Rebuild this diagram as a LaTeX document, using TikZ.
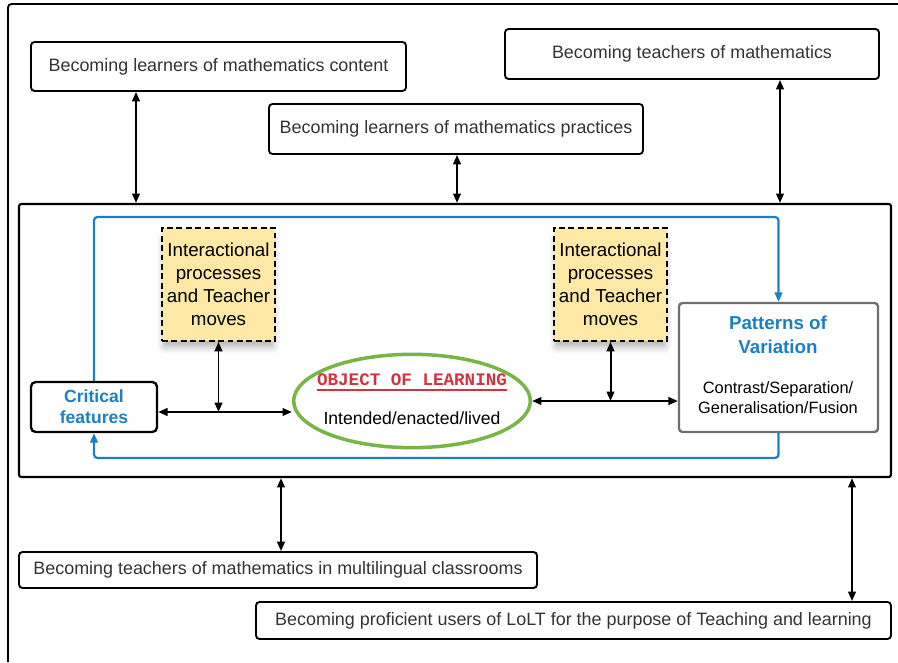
\documentclass[tikz,border=0pt]{standalone}
\usepackage{fontspec}
\setmainfont{Liberation Sans}
\newfontfamily\olfont{Liberation Mono}
\usetikzlibrary{shapes.geometric,fit,arrows.meta,shadows.blur}

\definecolor{featblue}{HTML}{1B7FC4}
\definecolor{moveyellow}{HTML}{FDE8A5}
\definecolor{olgreen}{HTML}{78B546}
\definecolor{olred}{HTML}{D1333F}
\definecolor{pvgray}{HTML}{6E6E6E}
\definecolor{txtgray}{HTML}{333333}

\begin{document}
\begin{tikzpicture}[x=0.03cm, y=-0.03cm,
    box/.style={draw, line width=1.6pt, rounded corners=3pt, inner sep=0pt},
    boxtext/.style={text=txtgray, font=\fontsize{15.3pt}{18pt}\selectfont},
    movebox/.style={draw, line width=1.5pt, dash pattern=on 5pt off 3pt,
      fill=moveyellow, inner sep=0pt,
      blur shadow={shadow xshift=0pt, shadow yshift=-7pt, shadow scale=0.95,
        shadow blur radius=7pt, shadow blur steps=12, shadow opacity=35}},
    movetext/.style={align=center, font=\fontsize{16pt}{19.6pt}\selectfont},
    dbl/.style={{Triangle[length=8pt,width=6.5pt]}-{Triangle[length=8pt,width=6.5pt]},
      line width=1.7pt},
    cycleline/.style={draw=featblue, line width=1.9pt, rounded corners=3pt,
      -{Triangle[length=8pt,width=6.5pt]}},
  ]

  \useasboundingbox (0,0) rectangle (898,662);

  % outer frame (open at the bottom and right)
  \draw[line width=1.6pt, rounded corners=3pt] (8,662) |- (898,4);

  % the three outcomes above
  \node[box, fit={(31,42) (406,91)}] (content) {};
  \node[boxtext] at (content.center) {Becoming learners of mathematics content};
  \node[box, fit={(505,29) (879,79)}] (teachers) {};
  \node[boxtext] at (teachers.center) {Becoming teachers of mathematics};
  \node[box, fit={(269,104) (643,154)}] (practices) {};
  \node[boxtext] at (practices.center) {Becoming learners of mathematics practices};

  % the central frame
  \node[draw, line width=1.9pt, rounded corners=2pt, inner sep=0pt,
    fit={(19,204) (891,477)}] (core) {};

  % the two outcomes below
  \node[box, fit={(19,552) (537,588)}] (multi) {};
  \node[boxtext] at (multi.center) {Becoming teachers of mathematics in multilingual classrooms};
  \node[box, fit={(256,602) (891,639)}] (lolt) {};
  \node[boxtext] at (lolt.center) {Becoming proficient users of LoLT for the purpose of Teaching and learning};

  % where the outer arrows meet the frame
  \coordinate (a1) at (136,0);
  \coordinate (a2) at (457,0);
  \coordinate (a3) at (780,0);
  \coordinate (a4) at (281,0);
  \coordinate (a5) at (852,0);

  \draw[dbl] (content.south -| a1) -- (core.north -| a1);
  \draw[dbl] (practices.south -| a2) -- (core.north -| a2);
  \draw[dbl] (teachers.south -| a3) -- (core.north -| a3);
  \draw[dbl] (core.south -| a4) -- (multi.north -| a4);
  \draw[dbl] (core.south -| a5) -- (lolt.north -| a5);

  % inside the frame
  \node[movebox, fit={(162,228) (275,341)}] (moves1) {};
  \node[movetext] at (moves1.center) {Interactional\\processes\\and Teacher\\moves};
  \node[movebox, fit={(554,228) (667,341)}] (moves2) {};
  \node[movetext] at (moves2.center) {Interactional\\processes\\and Teacher\\moves};

  \node[draw, line width=2pt, rounded corners=4pt, inner sep=0pt,
    fit={(31,382) (157,432)}] (crit) {};
  \node[align=center, text=featblue, font=\bfseries\fontsize{15pt}{18pt}\selectfont]
    at (crit.center) {Critical\\features};

  \node[draw=pvgray, line width=2pt, rounded corners=3pt, inner sep=0pt,
    fit={(679,303) (878,432)}] (pv) {};
  \node[align=center, text=featblue, font=\bfseries\fontsize{16pt}{20.5pt}\selectfont]
    (pvtitle) at (778,335) {Patterns of\\Variation};
  \node[align=center, font=\fontsize{14pt}{17pt}\selectfont]
    (pvtext) at (778,398) {Contrast/Separation/\\Generalisation/Fusion};

  % object of learning
  \node[draw=olgreen, line width=3pt, ellipse, minimum width=7.1cm,
    minimum height=2.8cm] (ol) at (412,401) {};
  \node[inner sep=0pt, text=olred, font=\olfont\bfseries\fontsize{15pt}{18pt}\selectfont]
    (oltitle) at (412,380) {OBJECT OF LEARNING};
  \draw[olred, line width=1.6pt] ([yshift=-3.5pt]oltitle.base west) -- ([yshift=-3.5pt]oltitle.base east);
  \node[font=\fontsize{15pt}{18pt}\selectfont] (oltext) at (412,418) {Intended/enacted/lived};

  % connectors inside the frame
  \coordinate (jl) at (218,412);
  \draw[dbl] (crit.east |- jl) -- (jl -| ol.west);
  \draw[dbl] (moves1.south) -- (moves1.south |- jl);
  \draw[dbl] (ol.east) -- (ol.east -| pv.west);
  \draw[dbl] (moves2.south) -- (moves2.south |- ol.east);

  % the blue cycle
  \coordinate (ct) at (0,217);
  \coordinate (cb) at (0,458);
  \draw[cycleline] (crit.north) |- (ct -| pv.north) -- (pv.north);
  \draw[cycleline] (pv.south) |- (cb -| crit.south) -- (crit.south);

\end{tikzpicture}
\end{document}
